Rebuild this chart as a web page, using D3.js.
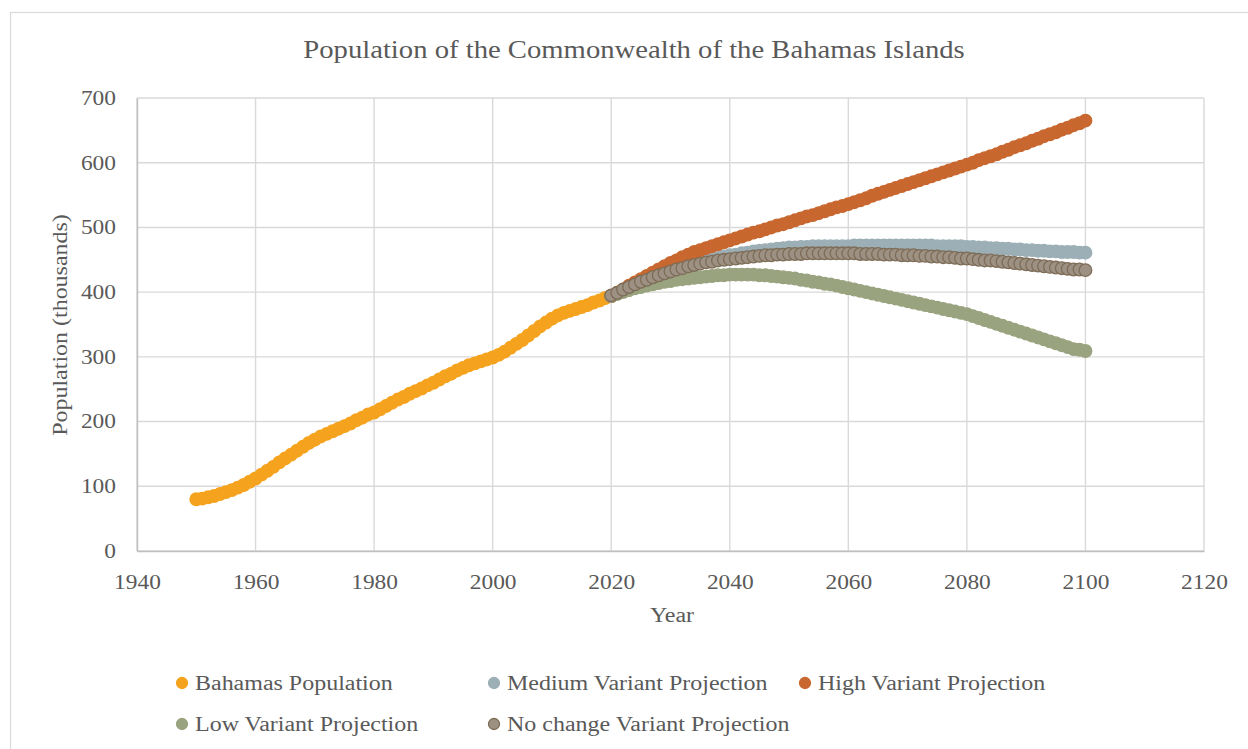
<!DOCTYPE html>
<html>
<head>
<meta charset="utf-8">
<script src="https://cdn.jsdelivr.net/npm/d3@7"></script>
<style>
  html, body { margin: 0; padding: 0; background: #fff; }
  svg { display: block; }
  text { font-family: "Liberation Serif", "Times New Roman", serif; fill: #595959; }
</style>
</head>
<body>
<svg id="chart" width="1248" height="749"></svg>
<script>
// Historical population, thousands (1950–2020)
const historyStart = 1950;
const bahamasPopulation = [
  80, 81, 83, 85, 88, 91, 94, 98, 102, 107,
  112, 118, 124, 130, 137, 143, 149, 155, 161, 167,
  172, 177, 181, 185, 189, 193, 197, 202, 206, 211,
  214, 219, 224, 229, 234, 238, 243, 247, 251, 256,
  260, 265, 270, 274, 279, 283, 287, 290, 293, 296,
  299, 303, 308, 314, 320, 326, 333, 340, 347, 353,
  359, 364, 368, 371, 374, 377, 380, 384, 387, 391,
  394
];

// Projection variants, thousands (2020–2100)
const projectionStart = 2020;
const mediumVariant = [
  394, 398, 403, 407, 411, 415, 419, 423, 426, 430,
  433, 436, 439, 442, 445, 447, 449, 451, 453, 455,
  457, 458, 460, 461, 463, 464, 465, 466, 467, 468,
  469, 469, 470, 470, 471, 471, 471, 471, 471, 471,
  471, 472, 472, 472, 472, 472, 472, 472, 472, 472,
  472, 472, 472, 472, 472, 471, 471, 471, 471, 471,
  470, 470, 469, 469, 468, 468, 467, 467, 466, 466,
  465, 465, 464, 464, 463, 463, 462, 462, 462, 461,
  461
];
const highVariant = [
  394, 399, 404, 410, 415, 420, 425, 430, 435, 440,
  445, 449, 454, 458, 462, 465, 468, 471, 474, 477,
  480, 483, 486, 489, 492, 494, 497, 500, 503, 505,
  508, 511, 514, 517, 519, 522, 525, 528, 531, 533,
  536, 539, 542, 545, 549, 552, 555, 558, 561, 564,
  567, 570, 573, 576, 579, 582, 585, 588, 591, 594,
  597, 600, 604, 607, 610, 613, 617, 620, 624, 627,
  630, 634, 637, 641, 644, 647, 651, 654, 658, 661,
  665
];
const lowVariant = [
  394, 397, 400, 403, 406, 408, 410, 412, 414, 416,
  417, 419, 420, 421, 422, 423, 424, 425, 426, 426,
  427, 427, 427, 427, 427, 426, 426, 425, 424, 423,
  422, 421, 419, 418, 416, 415, 413, 412, 410, 408,
  406, 404, 402, 400, 398, 396, 394, 392, 390, 388,
  386, 384, 382, 380, 378, 376, 374, 372, 370, 368,
  366, 363, 360, 357, 354, 351, 348, 345, 342, 339,
  336, 333, 330, 327, 324, 321, 318, 315, 312, 311,
  309
];
const noChangeVariant = [
  395, 399, 404, 408, 412, 416, 419, 423, 426, 429,
  432, 435, 437, 440, 442, 444, 446, 447, 449, 450,
  451, 452, 453, 454, 455, 456, 457, 457, 458, 458,
  459, 459, 459, 460, 460, 460, 460, 460, 460, 460,
  460, 460, 459, 459, 459, 459, 458, 458, 458, 457,
  457, 457, 456, 456, 455, 455, 454, 454, 453, 452,
  452, 451, 450, 449, 449, 448, 447, 446, 445, 444,
  443, 442, 441, 440, 439, 438, 437, 436, 435, 435,
  434
];

const xTicks = [1940, 1960, 1980, 2000, 2020, 2040, 2060, 2080, 2100, 2120];
const yTicks = [0, 100, 200, 300, 400, 500, 600, 700];

const seriesNames = [
  "Bahamas Population",
  "Medium Variant Projection",
  "High Variant Projection",
  "Low Variant Projection",
  "No change Variant Projection"
];

// styling per series
const styles = {
  "Bahamas Population":           { fill: "#F5A31E", stroke: "#F5A31E" },
  "Medium Variant Projection":    { fill: "#9CAFB6", stroke: "#9CAFB6" },
  "High Variant Projection":      { fill: "#C8672F", stroke: "#C8672F" },
  "Low Variant Projection":       { fill: "#9AA37F", stroke: "#9AA37F" },
  "No change Variant Projection": { fill: "#9D9184", stroke: "#7D6C56" }
};

const toPoints = (start, vals) => vals.map((v, i) => ({ year: start + i, value: v }));
const series = [
  { name: seriesNames[0], points: toPoints(historyStart, bahamasPopulation) },
  { name: seriesNames[1], points: toPoints(projectionStart, mediumVariant) },
  { name: seriesNames[2], points: toPoints(projectionStart, highVariant) },
  { name: seriesNames[3], points: toPoints(projectionStart, lowVariant) },
  { name: seriesNames[4], points: toPoints(projectionStart, noChangeVariant) }
];

const svg = d3.select("#chart");
const W = 1248, H = 749;
const plot = { left: 137, right: 1204, top: 98, bottom: 551 };
const grid = "#D9D9D9";
const SX = 1.17; // horizontal widening of the serif lettering

// places a text at (x, y), widened along its baseline
function wideText(parent, x, y, str, size, anchor, rot) {
  return parent.append("text")
    .attr("transform", `translate(${x},${y})${rot ? ` rotate(${rot})` : ""} scale(${SX},1)`)
    .attr("text-anchor", anchor || "start")
    .attr("font-size", size)
    .text(str);
}

// outer chart frame
svg.append("rect")
  .attr("x", 10.5).attr("y", 12.5)
  .attr("width", W + 20).attr("height", H + 20)
  .attr("fill", "#fff").attr("stroke", grid).attr("stroke-width", 1.2);

const x = d3.scaleLinear().domain([1940, 2120]).range([plot.left, plot.right]);
const y = d3.scaleLinear().domain([0, 700]).range([plot.bottom, plot.top]);

// gridlines
const g = svg.append("g");
g.selectAll("line.v").data(xTicks).join("line")
  .attr("x1", d => x(d)).attr("x2", d => x(d))
  .attr("y1", plot.top).attr("y2", plot.bottom)
  .attr("stroke", grid).attr("stroke-width", 1.4);
g.selectAll("line.h").data(yTicks).join("line")
  .attr("x1", plot.left).attr("x2", plot.right)
  .attr("y1", d => y(d)).attr("y2", d => y(d))
  .attr("stroke", grid).attr("stroke-width", 1.4);

// axes
const xAxis = d3.axisBottom(x).tickValues(xTicks).tickFormat(d3.format("d")).tickSize(0).tickPadding(24);
const yAxis = d3.axisLeft(y).tickValues(yTicks).tickFormat(d3.format("d")).tickSize(0).tickPadding(20);

const gx = svg.append("g").attr("transform", `translate(0,${plot.bottom})`).call(xAxis);
gx.select(".domain").attr("stroke", "#BFBFBF").attr("stroke-width", 1.4);
gx.selectAll("text").attr("font-size", 20).attr("fill", "#595959")
  .attr("font-family", "Liberation Serif, serif")
  .attr("transform", `scale(${SX},1)`);

const gy = svg.append("g").attr("transform", `translate(${plot.left},0)`).call(yAxis);
gy.select(".domain").attr("stroke", "#BFBFBF").attr("stroke-width", 1.4);
gy.selectAll("text").attr("font-size", 20).attr("fill", "#595959")
  .attr("font-family", "Liberation Serif, serif")
  .attr("x", -21 / SX)
  .attr("transform", `scale(${SX},1)`);

// title and axis titles
wideText(svg, 634, 58, "Population of the Commonwealth of the Bahamas Islands", 24.5, "middle");
wideText(svg, 672, 622, "Year", 20.5, "middle");
wideText(svg, 67, 325, "Population (thousands)", 20.5, "middle", -90);

// markers, one per year
const marks = svg.append("g");
series.forEach(s => {
  const st = styles[s.name];
  marks.append("g").selectAll("circle").data(s.points).join("circle")
    .attr("cx", d => x(d.year))
    .attr("cy", d => y(d.value))
    .attr("r", 6.3)
    .attr("fill", st.fill)
    .attr("stroke", st.stroke)
    .attr("stroke-width", 1.3);
});

// legend
const legendItems = [
  { name: seriesNames[0], x: 182, y: 683 },
  { name: seriesNames[1], x: 494, y: 683 },
  { name: seriesNames[2], x: 805, y: 683 },
  { name: seriesNames[3], x: 182, y: 724 },
  { name: seriesNames[4], x: 494, y: 724 }
];
const lg = svg.append("g");
legendItems.forEach(it => {
  const st = styles[it.name];
  lg.append("circle")
    .attr("cx", it.x).attr("cy", it.y).attr("r", 5.5)
    .attr("fill", st.fill).attr("stroke", st.stroke).attr("stroke-width", 1.3);
  wideText(lg, it.x + 13, it.y + 7, it.name, 20.5, "start");
});
</script>
</body>
</html>
